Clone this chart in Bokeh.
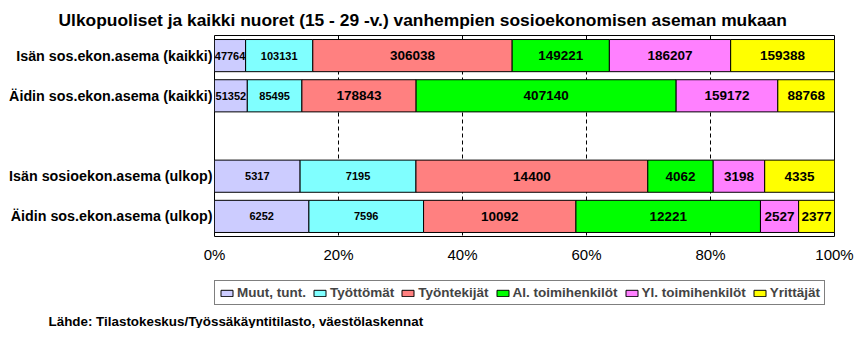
from bokeh.plotting import figure
from bokeh.layouts import column
from bokeh.models import (ColumnDataSource, Range1d, FixedTicker, Legend, LegendItem, Title)
from bokeh.core.properties import value
from bokeh.embed import file_html
from bokeh.resources import INLINE

title_text = "Ulkopuoliset ja kaikki nuoret (15 - 29 -v.) vanhempien sosioekonomisen aseman mukaan"
source_text = "Lähde: Tilastokeskus/Työssäkäyntitilasto, väestölaskennat"

categories = ["Isän sos.ekon.asema (kaikki)", "Äidin sos.ekon.asema (kaikki)",
              "Isän sosioekon.asema (ulkop)", "Äidin sos.ekon.asema (ulkop)"]
row_pos = [0, 1, 3, 4]

series_names = ["Muut, tunt.", "Työttömät", "Työntekijät", "Al. toimihenkilöt",
                "Yl. toimihenkilöt", "Yrittäjät"]
muut = [47764, 51352, 5317, 6252]
tyottomat = [103131, 85495, 7195, 7596]
tyontekijat = [306038, 178843, 14400, 10092]
al_toimi = [149221, 407140, 4062, 12221]
yl_toimi = [186207, 159172, 3198, 2527]
yrittajat = [159388, 88768, 4335, 2377]
series_values = [muut, tyottomat, tyontekijat, al_toimi, yl_toimi, yrittajat]
colors = ["#CCCCFF", "#80FFFF", "#FF8080", "#00FF00", "#FF80FF", "#FFFF00"]
x_ticks = [0, 20, 40, 60, 80, 100]
x_tick_labels = ["0%", "20%", "40%", "60%", "80%", "100%"]

FONT = "Liberation Sans"

# ---------------- main chart ----------------
p = figure(frame_width=620, frame_height=201, output_backend="svg", toolbar_location=None,
           x_range=Range1d(0, 100), y_range=Range1d(4.5, -0.5),
           min_border_left=214, min_border_right=28, min_border_top=35, min_border_bottom=39)
p.outline_line_color = "black"
p.outline_line_width = 1
p.background_fill_color = "white"
p.border_fill_color = "white"

totals = [sum(s[i] for s in series_values) for i in range(len(categories))]
left = [0.0] * len(categories)
for name, vals, col, k in zip(series_names, series_values, colors, range(6)):
    pct = [v / t * 100 for v, t in zip(vals, totals)]
    right = [l + q for l, q in zip(left, pct)]
    src = ColumnDataSource(dict(y=row_pos, left=left, right=right,
                                xc=[(l + r) / 2 for l, r in zip(left, right)],
                                lab=[str(v) for v in vals]))
    p.hbar(y="y", left="left", right="right", height=0.8, source=src,
           fill_color=col, line_color="black", line_width=1)
    small = k < 2
    p.text(x="xc", y="y", text="lab", source=src, text_align="center", text_baseline="middle",
           text_font=value(FONT), text_font_size="11px" if small else "13.5px",
           text_font_style="bold", text_color="black")
    left = right

p.xaxis.ticker = FixedTicker(ticks=x_ticks)
p.xaxis.major_label_overrides = {t: l for t, l in zip(x_ticks, x_tick_labels)}
p.xaxis.axis_line_color = None
p.xaxis.major_tick_line_color = None
p.xaxis.minor_tick_line_color = None
p.xaxis.major_tick_out = 0
p.xaxis.major_tick_in = 0
p.xaxis.major_label_standoff = 9
p.xaxis.major_label_text_font = FONT
p.xaxis.major_label_text_font_size = "15px"
p.xaxis.major_label_text_font_style = "normal"
p.xaxis.major_label_text_color = "black"

p.yaxis.ticker = FixedTicker(ticks=row_pos)
p.yaxis.major_label_overrides = {t: c for t, c in zip(row_pos, categories)}
p.yaxis.axis_line_color = None
p.yaxis.major_tick_line_color = None
p.yaxis.minor_tick_line_color = None
p.yaxis.major_tick_out = 0
p.yaxis.major_tick_in = 0
p.yaxis.major_label_standoff = 2
p.yaxis.major_label_text_font = FONT
p.yaxis.major_label_text_font_size = "14.3px"
p.yaxis.major_label_text_font_style = "bold"
p.yaxis.major_label_text_color = "black"

p.ygrid.grid_line_color = None
p.xgrid.grid_line_color = "black"
p.xgrid.grid_line_dash = "4 3"
p.xgrid.grid_line_width = 1

p.title = Title(text=title_text, align="left", offset=-156, text_font=FONT,
                text_font_size="17.4px", text_font_style="bold", text_color="black",
                standoff=10, vertical_align="middle")

# ---------------- legend + source strip ----------------
q = figure(frame_width=620, frame_height=36, output_backend="svg", toolbar_location=None,
           x_range=Range1d(0, 1), y_range=Range1d(0, 1),
           x_axis_type=None, y_axis_type=None,
           min_border_left=214, min_border_right=28, min_border_top=0, min_border_bottom=0)
q.outline_line_color = None
q.xgrid.grid_line_color = None
q.ygrid.grid_line_color = None
q.background_fill_color = "white"
q.border_fill_color = "white"

items = []
for name, col in zip(series_names, colors):
    # legend swatch carriers: a tiny bar hidden beneath the opaque legend box
    r = q.hbar(y=[0.5], left=[0.3], right=[0.31], height=0.05, fill_color=col,
               line_color="black", line_width=1)
    items.append(LegendItem(label=name, renderers=[r]))

legend = Legend(items=items, orientation="horizontal", location=(0, 6),
                label_text_font=FONT, label_text_font_size="13.5px", label_text_font_style="bold",
                glyph_width=15, glyph_height=8, label_standoff=3, spacing=6,
                padding=4, margin=0, border_line_color="black", border_line_width=1,
                background_fill_color="white", background_fill_alpha=1.0, label_height=14)
q.add_layout(legend, "center")

q.add_layout(Title(text=source_text, align="left", offset=-166, text_font=FONT,
                   text_font_size="13.4px", text_font_style="bold", text_color="black",
                   standoff=0), "below")

layout = column(p, q, spacing=0)
open("out.html", "w").write(file_html(layout, INLINE))
